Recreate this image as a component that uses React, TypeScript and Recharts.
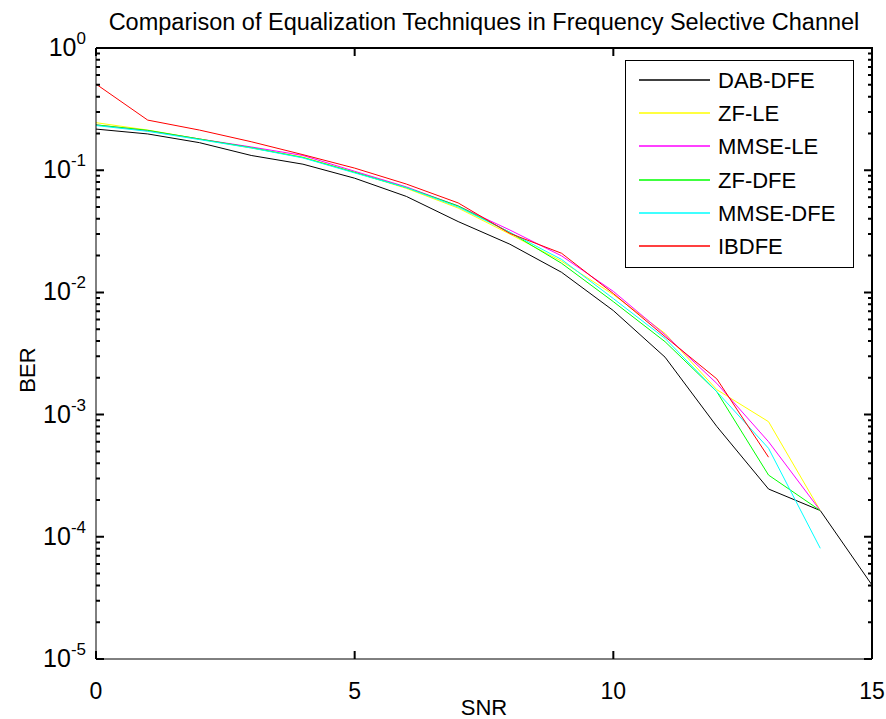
import { LineChart, Line, XAxis, YAxis } from 'recharts';

const snr = [0, 1, 2, 3, 4, 5, 6, 7, 8, 9, 10, 11, 12, 13, 14, 15];

const dabDfe = [0.217, 0.198, 0.168, 0.132, 0.112, 0.086, 0.061, 0.038, 0.0248, 0.0146, 0.0071, 0.00295, 0.0008, 0.000246, 0.000164, 0.0000403];
const zfLe = [0.245, 0.213, 0.18, 0.152, 0.128, 0.096, 0.071, 0.049, 0.03, 0.018, 0.0096, 0.00462, 0.0016, 0.000875, 0.000164, null];
const mmseLe = [0.235, 0.21, 0.18, 0.155, 0.132, 0.098, 0.073, 0.051, 0.0324, 0.0199, 0.0102, 0.0045, 0.0018, 0.0006, 0.000164, null];
const zfDfe = [0.235, 0.212, 0.18, 0.153, 0.127, 0.096, 0.072, 0.051, 0.031, 0.0173, 0.0084, 0.00395, 0.00154, 0.00032, 0.000164, null];
const mmseDfe = [0.232, 0.208, 0.178, 0.152, 0.126, 0.095, 0.072, 0.05, 0.031, 0.0186, 0.0089, 0.0042, 0.00154, 0.00053, 0.0000805, null];
const ibdfe = [0.507, 0.257, 0.213, 0.171, 0.134, 0.104, 0.077, 0.054, 0.0304, 0.0209, 0.0098, 0.00434, 0.00196, 0.000448, null, null];

const snrTicks = [0, 5, 10, 15];
const berMajorTicks = [1, 0.1, 0.01, 0.001, 0.0001, 0.00001];

const series = [
  { key: 'dab', name: 'DAB-DFE', color: '#000000', values: dabDfe },
  { key: 'zfle', name: 'ZF-LE', color: '#ffff00', values: zfLe },
  { key: 'mmsele', name: 'MMSE-LE', color: '#ff00ff', values: mmseLe },
  { key: 'zfdfe', name: 'ZF-DFE', color: '#00ff00', values: zfDfe },
  { key: 'mmsedfe', name: 'MMSE-DFE', color: '#00ffff', values: mmseDfe },
  { key: 'ibdfe', name: 'IBDFE', color: '#ff0000', values: ibdfe },
];

const data = snr.map((s, i) => {
  const row: Record<string, number | null> = { snr: s };
  series.forEach((sr) => {
    row[sr.key] = sr.values[i];
  });
  return row;
});

// log axis ticks: decades plus 2..9 minor ticks
const berTicks: number[] = [...berMajorTicks];
for (let e = -5; e < 0; e++) {
  for (let m = 2; m <= 9; m++) berTicks.push(m * Math.pow(10, e));
}

const FONT = '"Liberation Sans", Arial, sans-serif';
const W = 886;
const H = 719;
const X_MAX = 15;
const DECADES = 5;
const Y_AXIS_W = 60;
const X_AXIS_H = 30;
const PLOT = { left: 96, top: 48, right: 872, bottom: 659 };

const isMajor = (v: number) => {
  const l = Math.log10(v);
  return Math.abs(l - Math.round(l)) < 1e-6;
};

function LeftTick(props: any) {
  const { x, y, payload } = props;
  if (!isMajor(payload.value)) return <g />;
  const exp = Math.round(Math.log10(payload.value));
  return (
    <text x={x - 10} y={y + 8} textAnchor="end" fontSize={25} fontFamily={FONT} fill="#000">
      <tspan>10</tspan>
      <tspan dy={-12} fontSize={17}>{exp}</tspan>
    </text>
  );
}

function BottomTick(props: any) {
  const { x, y, payload } = props;
  return (
    <text x={x} y={y + 40} textAnchor="middle" fontSize={23} fontFamily={FONT} fill="#000">
      {payload.value}
    </text>
  );
}

// box edges and inward tick marks, drawn inside the chart's own svg
function FrameLayer() {
  const { left, top, right, bottom } = PLOT;
  const xPos = (t: number) => left + ((right - left) * t) / X_MAX;
  const yPos = (v: number) => top + ((bottom - top) * -Math.log10(v)) / DECADES;
  let d = `M${left},${top}H${right}V${bottom}`;
  snrTicks.forEach((t) => {
    const x = xPos(t);
    d += `M${x},${top}V${top + 8}M${x},${bottom}V${bottom - 8}`;
  });
  berTicks.forEach((v) => {
    const len = isMajor(v) ? 8 : 4;
    const y = yPos(v);
    d += `M${left},${y}H${left + len}M${right},${y}H${right - len}`;
  });
  return (
    <svg
      width={W}
      height={H}
      viewBox={`0 0 ${W} ${H}`}
      style={{ position: 'absolute', left: 0, top: 0, pointerEvents: 'none', overflow: 'visible' }}
    >
      <path d={d} fill="none" stroke="#000000" strokeWidth={2} />
    </svg>
  );
}

function LegendBox() {
  const w = 229;
  const h = 208;
  return (
    <svg width={w} height={h} style={{ position: 'absolute', left: 625, top: 60 }}>
      <rect x={0.5} y={0.5} width={w - 1} height={h - 1} fill="#fff" stroke="#000" />
      {series.map((s, i) => {
        const cy = Math.round(20 + i * 33.2);
        return (
          <g key={s.key}>
            <line x1={14} x2={85} y1={cy} y2={cy} stroke={s.color} strokeWidth={1.4} />
            <text x={93} y={cy + 8} fontSize={22} fontFamily={FONT} fill="#000">
              {s.name}
            </text>
          </g>
        );
      })}
    </svg>
  );
}

export default function App() {
  return (
    <div style={{ position: 'relative', width: W, height: H, fontFamily: FONT, background: '#fff', overflow: 'hidden' }}>
      <style>{'body{margin:0}'}</style>
      <LineChart
        width={W}
        height={H}
        data={data}
        margin={{
          top: PLOT.top,
          right: W - PLOT.right,
          bottom: H - PLOT.bottom - X_AXIS_H,
          left: PLOT.left - Y_AXIS_W,
        }}
      >
        <XAxis
          dataKey="snr"
          type="number"
          domain={[0, X_MAX]}
          ticks={snrTicks}
          interval={0}
          height={X_AXIS_H}
          tickSize={0}
          tickMargin={0}
          tickLine={false}
          tick={<BottomTick />}
          axisLine={{ stroke: '#000' }}
          allowDataOverflow
        />
        <YAxis
          scale="log"
          domain={[0.00001, 1]}
          ticks={berTicks}
          interval={0}
          width={Y_AXIS_W}
          tickSize={0}
          tickMargin={0}
          tickLine={false}
          tick={<LeftTick />}
          axisLine={{ stroke: '#000' }}
          allowDataOverflow
        />
        {series.map((s) => (
          <Line
            key={s.key}
            dataKey={s.key}
            name={s.name}
            type="linear"
            stroke={s.color}
            strokeWidth={1}
            dot={false}
            activeDot={false}
            isAnimationActive={false}
          />
        ))}
      </LineChart>

      <FrameLayer />

      <div style={{ position: 'absolute', left: 96, width: 776, top: 9, textAlign: 'center', fontSize: 23.5, lineHeight: '26px', color: '#000' }}>
        Comparison of Equalization Techniques in Frequency Selective Channel
      </div>
      <div style={{ position: 'absolute', left: 96, width: 776, top: 696, textAlign: 'center', fontSize: 22, lineHeight: '24px' }}>
        SNR
      </div>
      <div
        style={{
          position: 'absolute',
          left: 28,
          top: 370,
          fontSize: 22,
          lineHeight: '24px',
          transform: 'translate(-50%, -50%) rotate(-90deg)',
        }}
      >
        BER
      </div>

      <LegendBox />
    </div>
  );
}
